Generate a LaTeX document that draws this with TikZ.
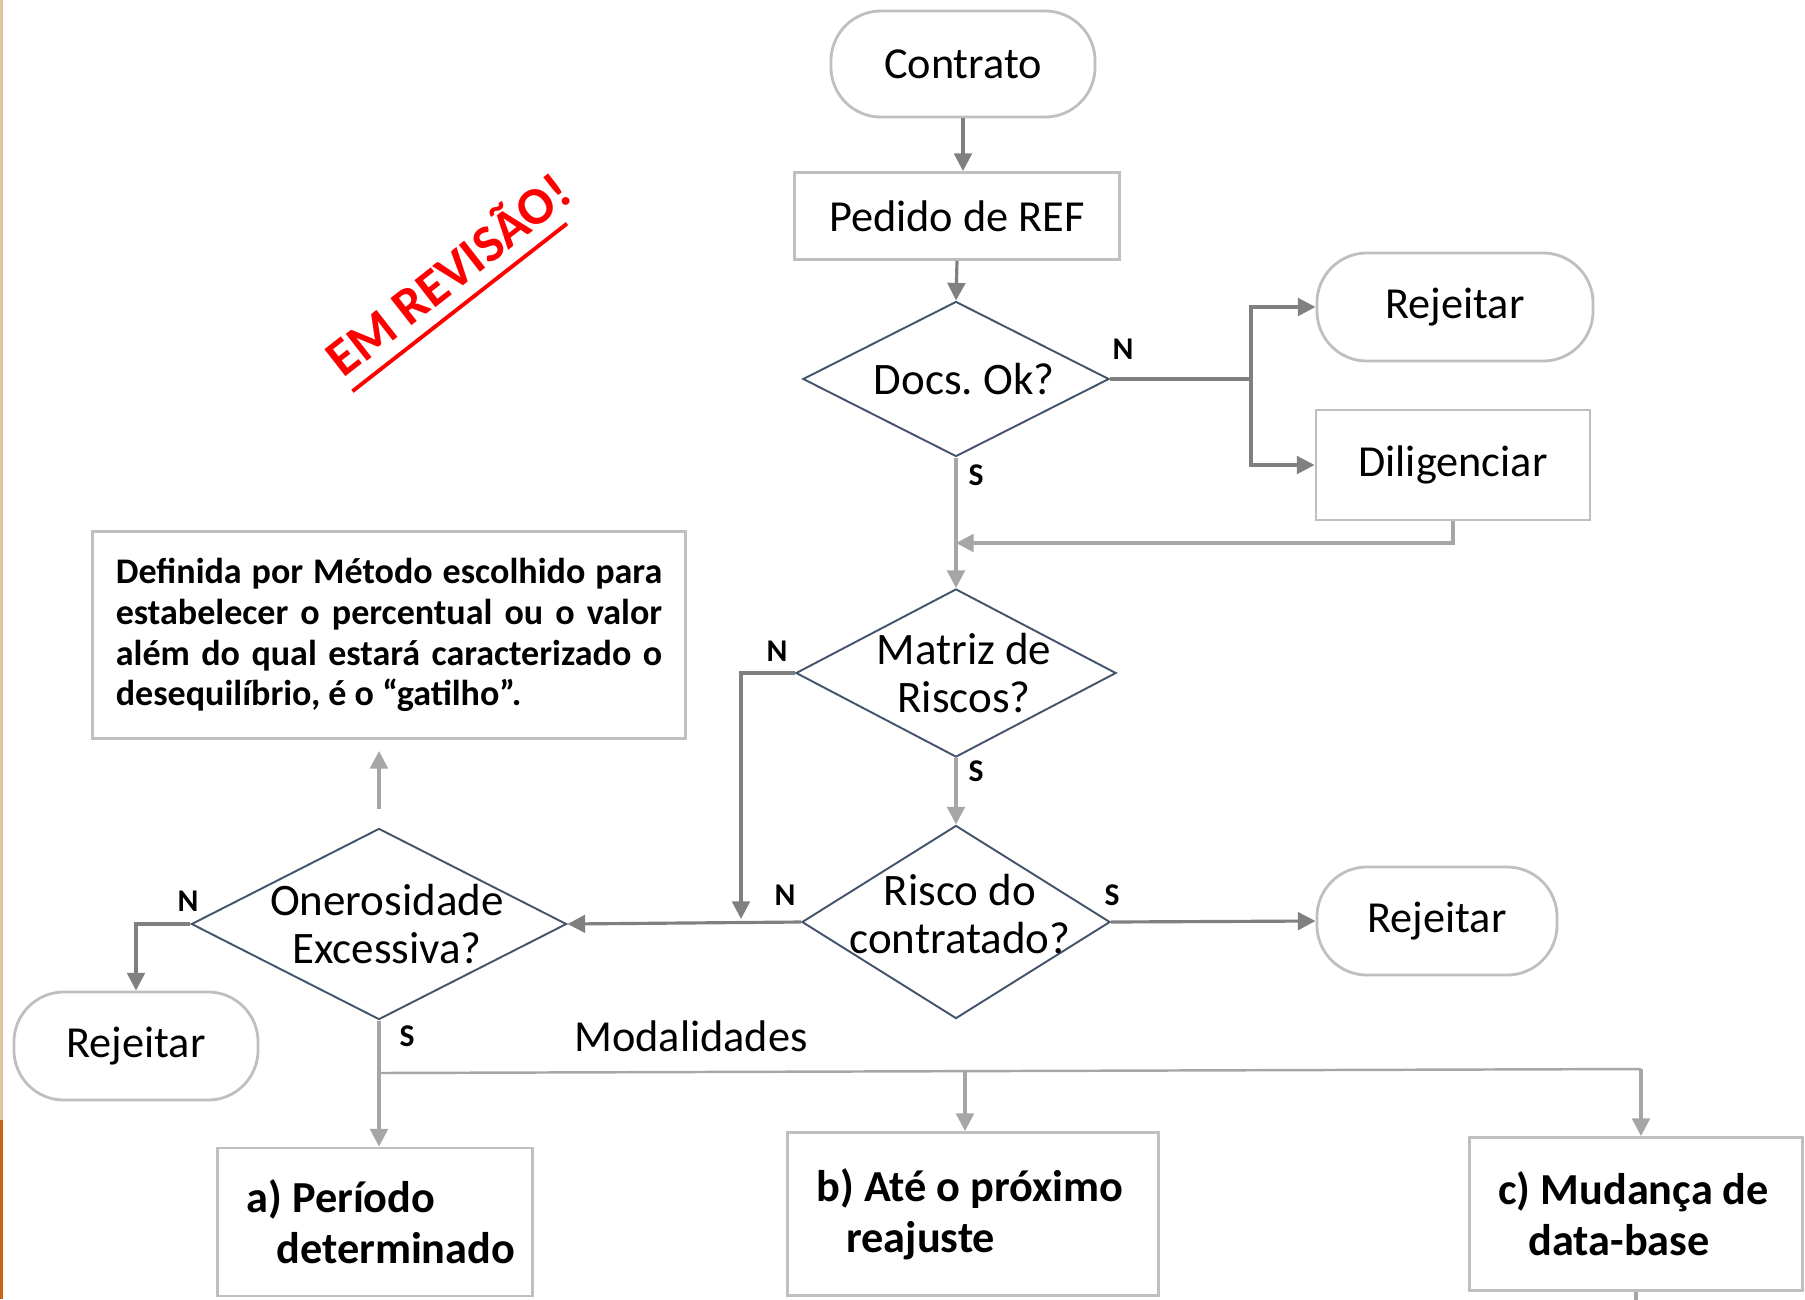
\documentclass[tikz,border=0pt]{standalone}
\usepackage{fontspec}
\setmainfont{Carlito}
\usepackage{xcolor}
\usepackage{tikz}
\usetikzlibrary{arrows.meta}
\usetikzlibrary{shapes.geometric}
\definecolor{linedark}{RGB}{128, 128, 128}
\definecolor{linelight}{RGB}{166, 166, 166}
\definecolor{boxgray}{RGB}{191, 191, 191}
\definecolor{diamblue}{RGB}{68, 84, 106}
\definecolor{stampred}{RGB}{255, 0, 0}
\definecolor{edgetan}{RGB}{228, 194, 156}
\definecolor{edgeorange}{RGB}{200, 100, 20}
\newcommand{\indline}[1]{\hspace*{0.3cm}\mbox{#1}}
\newcommand{\justline}[1]{\makebox[5.46cm][s]{#1}}

\begin{document}
\begin{tikzpicture}[x=0.01cm,y=-0.01cm,
  txt/.style={font=\fontsize{12.6}{14}\selectfont},
  terminal/.style={txt,draw=boxgray,line width=0.8pt,rounded corners=0.5cm,inner sep=0},
  process/.style={txt,draw=boxgray,line width=0.8pt,inner sep=0},
  decision/.style={diamond,draw=diamblue,line width=0.55pt,inner sep=0},
  dtext/.style={font=\fontsize{12.8}{13.9}\selectfont,align=flush center,xshift=0.08cm},
  mode/.style={draw=boxgray,line width=0.8pt,align=flush left,inner xsep=0.29cm,
    font=\bfseries\fontsize{12.6}{14.4}\selectfont},
  yn/.style={font=\bfseries\fontsize{9}{10}\selectfont},
  dark/.style={draw=linedark,line width=0.9pt},
  light/.style={draw=linelight,line width=0.9pt},
  tip/.style={-{Triangle[length=5pt,width=5pt]}}]
  \useasboundingbox (0,0) rectangle (1805,1299);
  \fill[edgetan] (0,0) rectangle (3,1120);
  \fill[edgeorange] (0,1120) rectangle (3,1299);

  \node[font=\bfseries\fontsize{15}{17}\selectfont,text=stampred,rotate=38,inner xsep=0pt,inner ysep=0.14cm] (stamp) at (446,272) {EM REVISÃO!};
  \draw[stampred,line width=1.1pt,shorten >=0.22cm] (stamp.south west) -- (stamp.south east);

  \node[terminal,minimum width=2.64cm,minimum height=1.06cm] (contrato) at (963,64) {Contrato};
  \node[process,minimum width=3.25cm,minimum height=0.87cm] (pedido) at (957,216) {Pedido de REF};
  \node[decision,minimum width=3.06cm,minimum height=1.55cm,label={[dtext]center:Docs.\ Ok?}] (docs) at (956,379) {};
  \node[terminal,minimum width=2.76cm,minimum height=1.08cm] (rej1) at (1455,307) {Rejeitar};
  \node[process,minimum width=2.74cm,minimum height=1.10cm] (dilig) at (1453,465) {Diligenciar};
  \node[decision,minimum width=3.2cm,minimum height=1.68cm,label={[dtext]center:Matriz de\\Riscos?}] (matriz) at (956,673) {};
  \node[decision,minimum width=3.08cm,minimum height=1.93cm,label={[dtext,xshift=-0.04cm,yshift=0.08cm]center:Risco do\\contratado?}] (risco) at (956,922) {};
  \node[terminal,minimum width=2.40cm,minimum height=1.08cm] (rej2) at (1437,921) {Rejeitar};
  \node[decision,minimum width=3.75cm,minimum height=1.91cm,label={[dtext]center:Onerosidade\\Excessiva?}] (oner) at (379,924) {};
  \node[draw=boxgray,line width=0.8pt,minimum width=5.93cm,minimum height=2.07cm,text width=5.46cm,align=flush left,
    font=\bfseries\fontsize{10.25}{11.6}\selectfont] (nota) at (389,635)
    {\justline{Definida por Método escolhido para}\\
     \justline{estabelecer o percentual ou o valor}\\
     \justline{além do qual estará caracterizado o}\\
     desequilíbrio, é o “gatilho”.};
  \node[terminal,minimum width=2.44cm,minimum height=1.08cm] (rej3) at (136,1046) {Rejeitar};
  \node[txt] (modal) at (691,1036) {Modalidades};
  \node[mode,minimum width=3.15cm,minimum height=1.48cm,text width=2.57cm] (boxa) at (375,1222)
    {\mbox{a) Período}\\ \indline{determinado}};
  \node[mode,minimum width=3.71cm,minimum height=1.63cm,text width=3.13cm] (boxb) at (973,1214)
    {\mbox{b) Até o próximo}\\ \indline{reajuste}};
  \node[mode,minimum width=3.33cm,minimum height=1.53cm,text width=2.75cm] (boxc) at (1636,1214)
    {\mbox{c) Mudança de}\\ \indline{data-base}};

  \node[yn] (docsN) at (1123,349) {N};
  \node[yn] (docsS) at (976,475) {S};
  \node[yn] (matrizN) at (777,651) {N};
  \node[yn] (matrizS) at (976,771) {S};
  \node[yn] (riscoN) at (785,895) {N};
  \node[yn] (riscoS) at (1112,895) {S};
  \node[yn] (onerN) at (188,901) {N};
  \node[yn] (onerS) at (407,1036) {S};

  \coordinate (split) at (1251,379);
  \coordinate (merge) at (956,543);
  \coordinate (join) at (741,919);
  \coordinate (bus) at (379,1073);
  \coordinate (tapb) at (965,1072);
  \coordinate (tapc) at (1641,1069);

  \draw[dark,tip] (contrato.south) -- (contrato.south |- pedido.north);
  \draw[dark,tip] (pedido.south) -- (docs.north);
  \draw[dark] (docs.east) -- (split);
  \draw[dark,tip] (split) |- (rej1.west);
  \draw[dark,tip] (split) |- (dilig.west);
  \draw[light,tip] (dilig.south) |- (merge);
  \draw[light,tip] (docs.south) -- (matriz.north);
  \draw[dark,tip] (matriz.west) -| (join);
  \draw[light,tip] (matriz.south) -- (risco.north);
  \draw[dark,tip] (risco.east) -- (rej2.west);
  \draw[dark,tip] (risco.west) -- (oner.east);
  \draw[light,tip,shorten <=0.18cm,shorten >=0.11cm] (oner.north) -- (oner.north |- nota.south);
  \draw[dark,tip] (oner.west) -| (rej3.north);
  \draw[light,tip] (oner.south) -- (oner.south |- boxa.north);
  \draw[light,line width=0.7pt] (bus) -- (tapc);
  \draw[light,tip] (tapb) -- (tapb |- boxb.north);
  \draw[light,tip] (tapc) -- (tapc |- boxc.north);
  \draw[light] (boxc.south) -- ++(0,8);
\end{tikzpicture}
\end{document}
